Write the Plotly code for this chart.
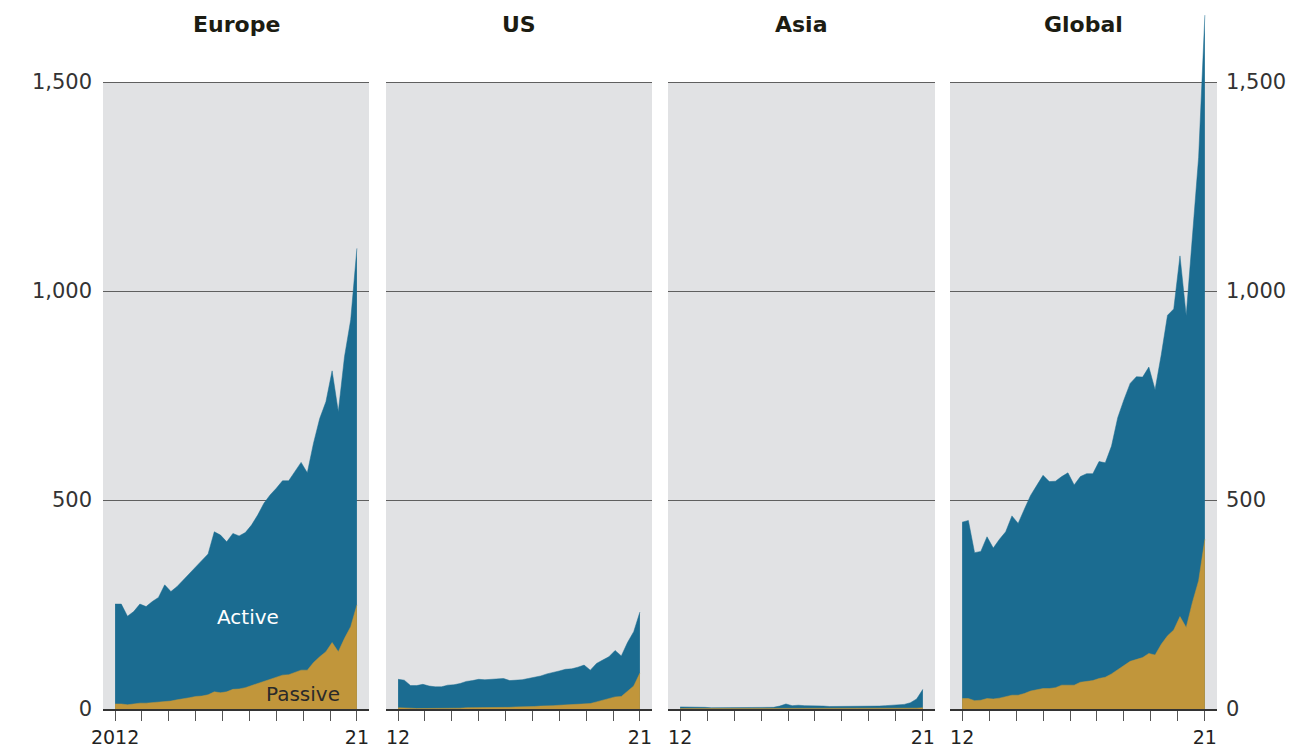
import numpy as np
import plotly.graph_objects as go

regions = ["Europe", "US", "Asia", "Global"]
year_ticks = list(range(2012, 2022))
first_label = ["2012", "12", "12", "12"]
last_label = "21"
y_ticks = [0, 500, 1000, 1500]
y_ticktext = ["0", "500", "1,000", "1,500"]

europe_total = [251, 251, 222, 233, 251, 245, 257, 267, 297, 281,
                293, 309, 325, 340, 356, 371, 424, 416, 400, 420,
                414, 422, 440, 464, 492, 512, 528, 546, 546, 568,
                590, 565, 636, 695, 735, 809, 711, 843, 931, 1102]
europe_passive = [12, 12, 10, 12, 14, 14, 15, 17, 18, 19,
                  22, 24, 27, 30, 31, 34, 41, 39, 41, 47,
                  48, 51, 56, 61, 67, 71, 76, 81, 82, 88,
                  93, 93, 111, 125, 137, 159, 137, 169, 197, 249]

us_total = [71, 69, 56, 56, 59, 55, 53, 53, 57, 58,
            61, 66, 68, 71, 70, 71, 72, 73, 68, 69,
            70, 73, 76, 79, 84, 87, 91, 95, 96, 100,
            105, 93, 109, 117, 125, 140, 127, 159, 185, 232]
us_passive = [3, 3, 2, 1, 1, 2, 1, 2, 2, 2,
              2, 3, 3, 4, 4, 4, 4, 4, 4, 5,
              5, 6, 6, 7, 7, 8, 9, 10, 11, 12,
              13, 13, 17, 21, 25, 29, 30, 42, 55, 86]

asia_total = [5, 5, 4, 4, 4, 3, 3, 3, 3, 3,
              3, 3, 3, 3, 3, 4, 7, 12, 8, 9,
              8, 8, 7, 7, 6, 6, 6, 7, 7, 7,
              6, 6, 7, 8, 9, 10, 11, 15, 24, 47]
asia_passive = [1, 1, 1, 1, 1, 1, 1, 1, 1, 1,
                1, 1, 1, 1, 1, 1, 1, 1, 1, 1,
                1, 1, 1, 1, 1, 1, 1, 1, 1, 1,
                1, 1, 1, 1, 1, 1, 1, 2, 2, 3]

global_total = [447, 451, 374, 377, 412, 385, 406, 424, 462, 444,
                478, 511, 535, 559, 544, 545, 556, 565, 536, 556,
                563, 563, 592, 589, 629, 697, 740, 779, 795, 794,
                818, 764, 848, 942, 957, 1084, 941, 1135, 1320, 1660]
global_passive = [25, 25, 20, 21, 25, 24, 26, 29, 33, 33,
                  37, 43, 46, 49, 49, 51, 57, 57, 57, 64,
                  66, 68, 73, 76, 84, 93, 104, 114, 119, 123,
                  133, 129, 155, 175, 189, 221, 195, 255, 307, 406]

totals = [europe_total, us_total, asia_total, global_total]
passives = [europe_passive, us_passive, asia_passive, global_passive]

n = len(europe_total)
x_vals = np.linspace(2012, 2021, n)

BLUE = "#1b6c91"
GOLD = "#c1963b"
BG = "#e1e2e4"
FONT = "DejaVu Sans"

W, H = 1316, 751
panels_px = [(103, 369), (386, 652), (668, 935), (950, 1217)]
y_zero_px = 709
px_per_unit = 209 / 500.0
y_top = y_zero_px / px_per_unit

fig = go.Figure()
for i in range(4):
    xa = "x" if i == 0 else f"x{i+1}"
    ya = "y" if i == 0 else f"y{i+1}"
    fig.add_trace(go.Scatter(x=x_vals, y=totals[i], xaxis=xa, yaxis=ya,
                             mode="lines", fill="tozeroy", fillcolor=BLUE,
                             line=dict(color=BLUE, width=0.5), hoverinfo="skip",
                             showlegend=False))
    fig.add_trace(go.Scatter(x=x_vals, y=passives[i], xaxis=xa, yaxis=ya,
                             mode="lines", fill="tozeroy", fillcolor=GOLD,
                             line=dict(color=GOLD, width=0.5), hoverinfo="skip",
                             showlegend=False))

layout = dict(width=W, height=H, margin=dict(l=0, r=0, t=0, b=0, pad=0),
              paper_bgcolor="white", plot_bgcolor="rgba(0,0,0,0)",
              font=dict(family=FONT, size=20, color="#333333"),
              showlegend=False)

ydom = [(H - y_zero_px) / H, 1.0]
shapes = []
annotations = []
for i, (x0, x1) in enumerate(panels_px):
    sfx = "" if i == 0 else str(i + 1)
    ticktext = [first_label[i]] + [""] * (len(year_ticks) - 2) + [last_label]
    layout[f"xaxis{sfx}"] = dict(
        domain=[x0 / W, x1 / W], anchor=f"y{sfx}", automargin=False,
        range=[2011.55, 2021.45], tickvals=year_ticks, ticktext=ticktext,
        ticks="outside", ticklen=10, tickwidth=1.3, tickcolor="#555555",
        showline=True, linecolor="#333333", linewidth=1.5,
        showgrid=False, zeroline=False, fixedrange=True,
        tickfont=dict(family=FONT, size=19, color="#222222"),
    )
    ydict = dict(
        domain=ydom, anchor=f"x{sfx}", range=[0, y_top], automargin=False,
        tickvals=y_ticks, ticktext=y_ticktext,
        showgrid=True, gridcolor="#5f5f5f", gridwidth=1.3,
        zeroline=False, showline=False, ticks="", fixedrange=True,
        tickfont=dict(family=FONT, size=21, color="#333333"),
    )
    if i == 0:
        ydict.update(side="left", showticklabels=True, ticklabelstandoff=10)
    elif i == 3:
        ydict.update(side="right", showticklabels=True, ticklabelstandoff=8)
    else:
        ydict.update(showticklabels=False)
    if i > 0:
        ydict["matches"] = "y"
    layout[f"yaxis{sfx}"] = ydict

    shapes.append(dict(type="rect", xref=f"x{sfx} domain", yref=f"y{sfx}",
                       x0=0, x1=1, y0=0, y1=1500, fillcolor=BG,
                       line=dict(width=0), layer="below"))
    annotations.append(dict(text=f"<b>{regions[i]}</b>", xref="paper", yref="paper",
                            x=(x0 + x1) / 2 / W, y=1 - 25 / H, showarrow=False,
                            xanchor="center", yanchor="middle",
                            font=dict(family=FONT, size=22, color="#1c1c12")))

annotations.append(dict(text="Active", xref="x", yref="y", x=2016.95, y=220,
                        showarrow=False, xanchor="center", yanchor="middle",
                        font=dict(family=FONT, size=20, color="white")))
annotations.append(dict(text="Passive", xref="x", yref="y", x=2019.0, y=36,
                        showarrow=False, xanchor="center", yanchor="middle",
                        font=dict(family=FONT, size=20, color="#2a2a2a")))

layout["shapes"] = shapes
layout["annotations"] = annotations
fig.update_layout(**layout)
fig.write_html("out.html")
